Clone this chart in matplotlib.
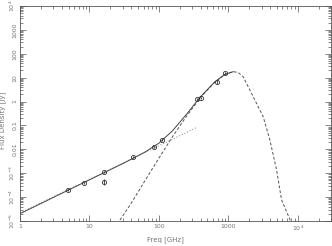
import numpy as np
import matplotlib
matplotlib.use("Agg")
import matplotlib.pyplot as plt
from matplotlib.ticker import FixedLocator, LogLocator, NullFormatter

# ---- data ----
obs_freq = [4.86, 8.4, 16.3, 16.3, 42.7, 85.6, 109, 349, 398, 676, 891]
obs_flux = [2.0e-4, 3.8e-4, 1.1e-3, 4.5e-4, 4.7e-3, 1.22e-2, 2.47e-2, 1.25, 1.46, 6.8, 15.3]
obs_err = [0.2e-4, 0.4e-4, 0.1e-3, 1.2e-4, 0.4e-3, 1.0e-3, 2.0e-3, 0.1, 0.15, 1.5, 1.2]

pl_freq = [1.0, 356.0]
pl_flux = [2.18e-5, 8.4e-2]

gb_freq = [27.5, 40, 63, 100, 158, 251, 398, 631, 891, 1175, 1380, 1633, 2275, 3170, 3955, 4940, 5825, 7850]
gb_flux = [1.1e-5, 5.6e-5, 4.9e-4, 4.3e-3, 3.5e-2, 0.25, 1.5, 6.3, 13.5, 17.8, 16.5, 11.0, 1.6, 0.233, 0.0247, 1.37e-3, 7.6e-5, 1.0e-5]

tot_freq = [1.0, 10, 31.6, 63, 100, 158, 251, 398, 631, 891, 1175]
tot_flux = [2.02e-5, 5.3e-4, 2.7e-3, 7.7e-3, 1.81e-2, 6.1e-2, 0.30, 1.61, 6.5, 13.8, 17.8]

ytick_vals = [1e-5, 1e-4, 1e-3, 1e-2, 1e-1, 1, 10, 100, 1000, 1e4]
ytick_labels = [r'$10^{-5}$', r'$10^{-4}$', r'$10^{-3}$', '0.01', '0.1', '1', '10', '100', '1000', r'$10^{4}$']
xtick_vals = [1, 10, 100, 1000, 1e4]
xtick_labels = ['1', '10', '100', '1000', r'$10^{4}$']

fig = plt.figure(figsize=(3.32, 2.46), dpi=100)
ax = fig.add_axes([20/332, 25/246, 311/332, 215/246])

ax.plot(pl_freq, pl_flux, ls=':', color='#999999', lw=0.8)
ax.plot(gb_freq, gb_flux, ls='--', color='#555555', lw=0.7, dashes=(3, 2))
ax.plot(tot_freq, tot_flux, ls='-', color='#444444', lw=0.7)
ax.errorbar(obs_freq, obs_flux, yerr=obs_err, fmt='o', ms=3, mfc='none', mec='#333333',
            mew=0.6, ecolor='#333333', elinewidth=0.6, capsize=0)

ax.set_xscale('log')
ax.set_yscale('log')
ax.set_xlim(1, 3e4)
ax.set_ylim(1e-5, 1e4)

ax.xaxis.set_major_locator(FixedLocator(xtick_vals))
ax.set_xticklabels(xtick_labels)
ax.xaxis.set_minor_locator(LogLocator(base=10, subs=np.arange(2, 10), numticks=20))
ax.xaxis.set_minor_formatter(NullFormatter())
ax.yaxis.set_major_locator(FixedLocator(ytick_vals))
ax.set_yticklabels(ytick_labels, rotation=90, va='center')
ax.yaxis.set_minor_locator(LogLocator(base=10, subs=np.arange(2, 10), numticks=20))
ax.yaxis.set_minor_formatter(NullFormatter())

ax.tick_params(which='both', direction='in', top=True, right=True, colors='#555555',
               labelcolor='#777777', labelsize=4.5, width=0.5, pad=2)
ax.tick_params(which='major', length=4)
ax.tick_params(which='minor', length=2)
for s in ax.spines.values():
    s.set_color('#555555')
    s.set_linewidth(0.6)

ax.set_xlabel('Freq [GHz]', fontsize=5, color='#777777')
ax.set_ylabel('Flux Density [Jy]', fontsize=5, color='#777777')
ax.xaxis.set_label_coords((165 - 20) / 311, -15 / 215)
ax.yaxis.set_label_coords(-14 / 311, 0.47)

fig.savefig('out.png', dpi=100)
